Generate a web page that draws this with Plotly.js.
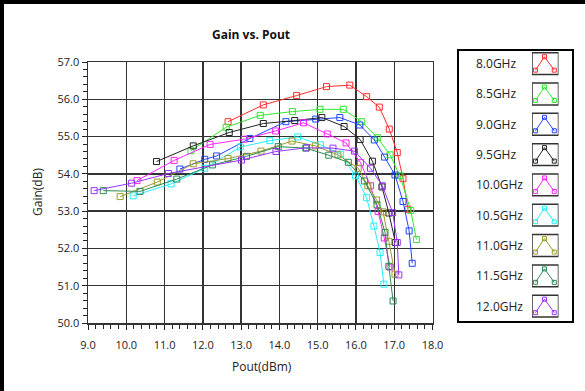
<!DOCTYPE html>
<html>
<head>
<meta charset="utf-8">
<script src="https://cdn.plot.ly/plotly-3.0.1.min.js"></script>
<style>
  html, body { margin: 0; padding: 0; background: #fff; }
  #chart { width: 585px; height: 391px; }
</style>
</head>
<body>
<div id="chart"></div>
<script>
// Frequency labels and trace colours
const freqLabels = ['8.0GHz', '8.5GHz', '9.0GHz', '9.5GHz', '10.0GHz', '10.5GHz', '11.0GHz', '11.5GHz', '12.0GHz'];
const freqColors = ['#ff2b2b', '#2ee82e', '#2244ff', '#222222', '#ff22ff', '#22eeff', '#9a9a2a', '#2a8a55', '#9933ff'];

// Output power (dBm) and gain (dB) per frequency
const pout_8_0 = [12.66, 13.58, 14.45, 15.23, 15.84, 16.28, 16.61, 16.87, 17.08, 17.23, 17.36];
const gain_8_0 = [55.40, 55.85, 56.10, 56.34, 56.38, 56.07, 55.79, 55.20, 54.57, 53.87, 53.05];

const pout_8_5 = [11.69, 12.61, 13.50, 14.34, 15.06, 15.67, 16.15, 16.56, 16.89, 17.15, 17.43, 17.58];
const gain_8_5 = [54.62, 55.25, 55.57, 55.67, 55.73, 55.73, 55.40, 54.97, 54.51, 53.95, 53.02, 52.24];

const pout_9_0 = [11.40, 12.05, 12.36, 13.23, 14.17, 14.95, 15.58, 16.10, 16.48, 16.75, 17.02, 17.23, 17.39, 17.47];
const gain_9_0 = [54.13, 54.39, 54.48, 54.95, 55.40, 55.47, 55.51, 55.31, 54.91, 54.45, 53.97, 53.26, 52.47, 51.60];

const pout_9_5 = [10.79, 11.75, 12.69, 13.58, 14.40, 15.11, 15.69, 16.11, 16.43, 16.68, 16.86, 17.03];
const gain_9_5 = [54.33, 54.75, 55.11, 55.35, 55.43, 55.51, 55.27, 54.92, 54.34, 53.65, 52.95, 52.16];

const pout_10_0 = [10.28, 11.25, 12.19, 13.09, 13.90, 14.63, 15.25, 15.74, 16.12, 16.38, 16.58, 16.74, 16.89];
const gain_10_0 = [53.82, 54.36, 54.79, 54.93, 55.15, 55.37, 55.07, 54.83, 54.30, 53.68, 52.99, 52.28, 51.50];

const pout_10_5 = [10.18, 11.17, 12.05, 12.98, 13.75, 14.48, 15.07, 15.60, 15.99, 16.28, 16.47, 16.63, 16.73];
const gain_10_5 = [53.41, 53.73, 54.15, 54.72, 54.89, 54.99, 54.78, 54.53, 53.95, 53.36, 52.60, 51.89, 51.04];

const pout_11_0 = [9.84, 10.81, 11.75, 12.66, 13.52, 14.33, 14.94, 15.53, 16.06, 16.31, 16.54, 16.71, 16.86, 17.02];
const gain_11_0 = [53.39, 53.78, 54.27, 54.41, 54.61, 54.88, 54.75, 54.51, 54.15, 53.68, 53.30, 52.98, 52.19, 51.31];

const pout_11_5 = [9.40, 10.36, 11.32, 12.25, 13.14, 13.97, 14.69, 15.29, 15.80, 16.22, 16.55, 16.76, 16.86, 16.97];
const gain_11_5 = [53.55, 53.53, 53.86, 54.24, 54.47, 54.73, 54.69, 54.50, 54.31, 53.81, 53.17, 52.43, 51.52, 50.59];

const pout_12_0 = [9.16, 10.14, 11.10, 13.01, 13.91, 14.71, 15.40, 15.96, 16.38, 16.69, 16.96, 17.08, 17.12];
const gain_12_0 = [53.55, 53.75, 54.01, 54.37, 54.60, 54.70, 54.69, 54.61, 54.15, 53.68, 52.96, 52.16, 51.29];

// Axis tick values
const xTicks = [9, 10, 11, 12, 13, 14, 15, 16, 17, 18];
const yTicks = [50, 51, 52, 53, 54, 55, 56, 57];

const poutSets = [pout_8_0, pout_8_5, pout_9_0, pout_9_5, pout_10_0, pout_10_5, pout_11_0, pout_11_5, pout_12_0];
const gainSets = [gain_8_0, gain_8_5, gain_9_0, gain_9_5, gain_10_0, gain_10_5, gain_11_0, gain_11_5, gain_12_0];

// Figure geometry (pixels); margins are zero so paper == figure
const W = 585, H = 391;
const px = v => v / W;
const py = v => 1 - v / H;

const traces = [];
freqLabels.forEach((name, i) => {
  traces.push({
    type: 'scatter', mode: 'lines+markers', name: name,
    x: poutSets[i], y: gainSets[i],
    xaxis: 'x', yaxis: 'y',
    line: { color: freqColors[i], width: 1 },
    marker: { symbol: 'square-open', size: 6, color: freqColors[i], line: { width: 1, color: freqColors[i] } },
    showlegend: false, hoverinfo: 'x+y+name'
  });
});

// Custom legend swatches: little tent-shaped line with square markers
const iconX = [0.13, 0.47, 0.84];
const iconDY = [0.715, 0.27, 0.715];
freqLabels.forEach((name, i) => {
  traces.push({
    type: 'scatter', mode: 'lines+markers',
    x: iconX, y: iconDY.map(d => i + d),
    xaxis: 'x2', yaxis: 'y2',
    line: { color: freqColors[i], width: 1 },
    marker: { symbol: 'square-open', size: 4, color: freqColors[i], line: { width: 1, color: freqColors[i] } },
    showlegend: false, hoverinfo: 'skip'
  });
});

const shapes = [];
// outer frame (left and top edges)
shapes.push({ type: 'line', xref: 'paper', yref: 'paper', x0: px(2), x1: px(2), y0: 0, y1: 1, line: { color: '#000', width: 4 } });
shapes.push({ type: 'line', xref: 'paper', yref: 'paper', x0: 0, x1: 1, y0: py(2), y1: py(2), line: { color: '#000', width: 4 } });
// legend frame
shapes.push({ type: 'rect', xref: 'paper', yref: 'paper', x0: px(458), x1: px(573), y0: py(50), y1: py(322), line: { color: '#000', width: 2 } });
// swatch boxes
freqLabels.forEach((name, i) => {
  shapes.push({ type: 'rect', xref: 'x2', yref: 'y2', x0: 0, x1: 1, y0: i + 0.14, y1: i + 0.86, line: { color: '#333', width: 1.5 }, layer: 'below' });
});

const annotations = [];
freqLabels.forEach((name, i) => {
  annotations.push({
    text: name, xref: 'paper', yref: 'y2', x: px(474), y: i + 0.5,
    xanchor: 'left', yanchor: 'middle', showarrow: false,
    font: { family: 'Open Sans, Noto Sans, sans-serif', size: 12, color: '#222' }
  });
});
annotations.push({
  text: 'Pout(dBm)', xref: 'paper', yref: 'paper', x: px(262), y: py(366),
  xanchor: 'center', yanchor: 'middle', showarrow: false,
  font: { family: 'Open Sans, Noto Sans, sans-serif', size: 12, color: '#222' }
});
annotations.push({
  text: 'Gain(dB)', xref: 'paper', yref: 'paper', x: px(37), y: py(192),
  xanchor: 'center', yanchor: 'middle', showarrow: false, textangle: -90,
  font: { family: 'Open Sans, Noto Sans, sans-serif', size: 12, color: '#222' }
});

const axisFont = { family: 'Open Sans, Noto Sans, sans-serif', size: 11, color: '#222' };

const layout = {
  width: W, height: H, autosize: false,
  margin: { l: 0, r: 0, t: 0, b: 0, pad: 0 },
  paper_bgcolor: '#fff', plot_bgcolor: '#fff',
  showlegend: false,
  title: {
    text: '<b>Gain vs. Pout</b>', xref: 'container', yref: 'container',
    x: px(251), y: py(35), xanchor: 'center', yanchor: 'middle',
    font: { family: 'Open Sans, Noto Sans, sans-serif', size: 12, color: '#111' }
  },
  xaxis: {
    domain: [px(88), px(432.5)], range: [9, 18], autorange: false,
    tickmode: 'array', tickvals: xTicks, ticktext: xTicks.map(v => v.toFixed(1)),
    ticks: 'outside', ticklen: 5, tickwidth: 1, tickcolor: '#222',
    minor: { dtick: 0.2, ticks: 'outside', ticklen: 4, tickwidth: 1, tickcolor: '#222', showgrid: false },
    showgrid: true, gridcolor: '#333', gridwidth: 1.4,
    showline: true, linecolor: '#333', linewidth: 1.5, mirror: true,
    zeroline: false, tickfont: axisFont, ticklabelstandoff: 6, automargin: false, fixedrange: true
  },
  yaxis: {
    domain: [1 - 323 / H, 1 - 62 / H], range: [50, 57], autorange: false,
    tickmode: 'array', tickvals: yTicks, ticktext: yTicks.map(v => v.toFixed(1)),
    ticks: 'outside', ticklen: 5, tickwidth: 1, tickcolor: '#222',
    minor: { dtick: 0.2, ticks: 'outside', ticklen: 4, tickwidth: 1, tickcolor: '#222', showgrid: false },
    showgrid: true, gridcolor: '#333', gridwidth: 1.4,
    showline: true, linecolor: '#333', linewidth: 1.5, mirror: true,
    zeroline: false, tickfont: axisFont, automargin: false, fixedrange: true
  },
  // invisible axes hosting the legend swatches
  xaxis2: {
    domain: [px(532), px(558.5)], range: [0, 1], autorange: false, anchor: 'y2',
    visible: false, fixedrange: true
  },
  yaxis2: {
    domain: [1 - 321.3 / H, 1 - 48.5 / H], range: [9, 0], autorange: false, anchor: 'x2',
    visible: false, fixedrange: true
  },
  shapes: shapes,
  annotations: annotations
};

Plotly.newPlot('chart', traces, layout, { displayModeBar: false, staticPlot: true });
</script>
</body>
</html>
